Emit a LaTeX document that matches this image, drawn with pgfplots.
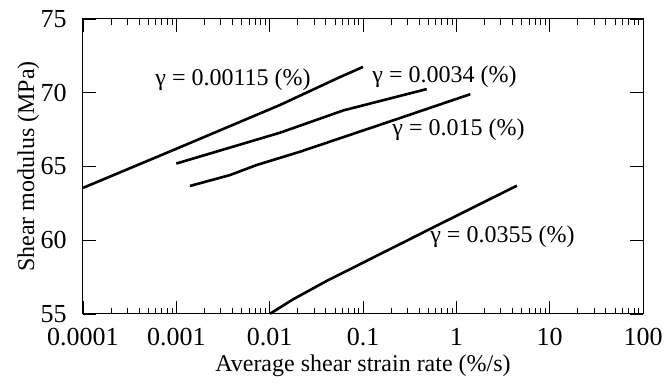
\documentclass[12pt,border=0pt]{standalone}
\usepackage{fontspec}
\setmainfont{Liberation Serif}
\usepackage{pgfplots}
\pgfplotsset{compat=1.18}
\begin{document}
\begin{tikzpicture}
\begin{axis}[
  scale only axis,
  width=280pt, height=147.5pt,
  xmode=log, log basis x=10,
  xmin=1e-4, xmax=100,
  ymin=55, ymax=75,
  xtick={1e-4,1e-3,1e-2,1e-1,1,10,100},
  xticklabels={0.0001,0.001,0.01,0.1,1,10,100},
  minor xtick={2e-4,3e-4,4e-4,5e-4,6e-4,7e-4,8e-4,9e-4,
    2e-3,3e-3,4e-3,5e-3,6e-3,7e-3,8e-3,9e-3,
    2e-2,3e-2,4e-2,5e-2,6e-2,7e-2,8e-2,9e-2,
    0.2,0.3,0.4,0.5,0.6,0.7,0.8,0.9,
    2,3,4,5,6,7,8,9,
    20,30,40,50,60,70,80,90},
  ytick={55,60,65,70,75},
  /pgf/number format/assume math mode=true,
  tick align=inside,
  major tick length=6.5pt,
  minor tick length=3pt,
  axis line style={line width=0.5pt},
  every tick/.style={black, line width=0.4pt},
  tick label style={font=\fontsize{13}{15}\selectfont},
  xticklabel style={yshift=-3pt},
  yticklabel style={xshift=-4pt},
  xlabel={Average shear strain rate (\%/s)},
  ylabel={Shear modulus (MPa)},
  xlabel style={yshift=4pt},
  ylabel style={yshift=-7.5pt},
  clip=false,
]
\addplot[black, line width=1.3pt] coordinates {
(1e-4,63.55) (1e-3,66.2) (0.0129,69.17) (0.057,71.07) (0.1,71.75)};
\addplot[black, line width=1.3pt] coordinates {
(0.001,65.2) (0.0129,67.29) (0.0615,68.8) (0.482,70.25)};
\addplot[black, line width=1.3pt] coordinates {
(0.0014,63.68) (0.00376,64.42) (0.00726,65.1) (0.0211,66.0) (0.211,68.13) (1.41,69.9)};
\addplot[black, line width=1.3pt] coordinates {
(0.0101,55.02) (0.0179,56.0) (0.0408,57.24) (0.482,60.65) (4.45,63.7)};
\node[anchor=west, inner sep=0pt] at (axis cs:5.91e-4,70.86) {γ = 0.00115 (\%)};
\node[anchor=west, inner sep=0pt] at (axis cs:0.1249,71.07) {γ = 0.0034 (\%)};
\node[anchor=west, inner sep=0pt] at (axis cs:0.2047,67.47) {γ = 0.015 (\%)};
\node[anchor=west, inner sep=0pt] at (axis cs:0.522,60.22) {γ = 0.0355 (\%)};
\end{axis}
\pgfresetboundingbox
\path ([shift={(-41.5pt,-37pt)}]current axis.south west) rectangle ([shift={(11pt,9.5pt)}]current axis.north east);
\end{tikzpicture}
\end{document}
